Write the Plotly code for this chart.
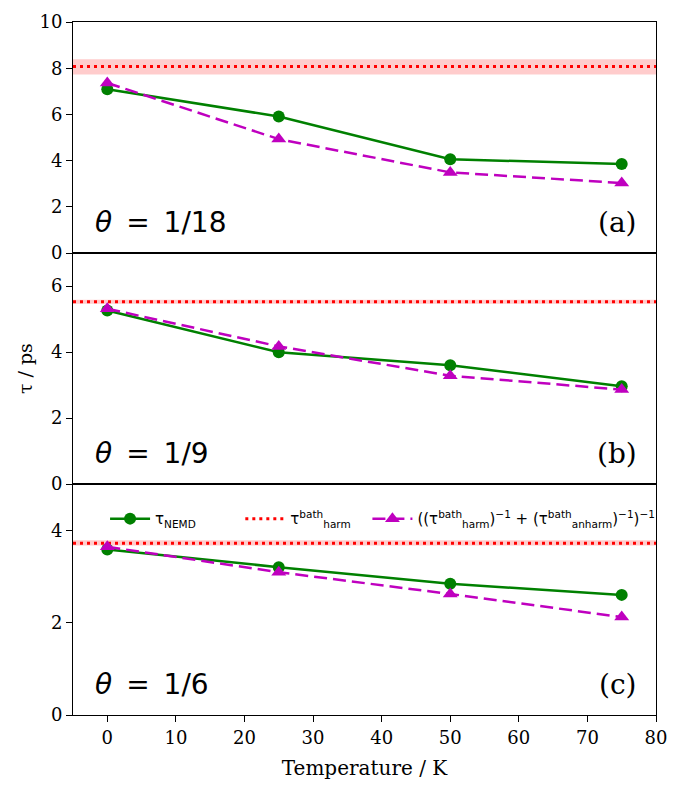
import plotly.graph_objects as go
from plotly.subplots import make_subplots

# ---------------- data ----------------
temps = [0, 25, 50, 75]
panel_tags = ["(a)", "(b)", "(c)"]
theta_labels = ["1/18", "1/9", "1/6"]
y_max = [10, 7, 5]

nemd_a = [7.09, 5.91, 4.06, 3.85]
nemd_b = [5.26, 3.99, 3.60, 2.96]
nemd_c = [3.58, 3.20, 2.84, 2.60]

comb_a = [7.36, 4.93, 3.49, 3.03]
comb_b = [5.31, 4.17, 3.28, 2.86]
comb_c = [3.64, 3.09, 2.62, 2.12]

harm = [8.07, 5.52, 3.72]
harm_lo = [7.73, 5.46, 3.67]
harm_hi = [8.39, 5.58, 3.78]

x_ticks = [0, 10, 20, 30, 40, 50, 60, 70, 80]
x_range = [-5, 80]

nemd = [nemd_a, nemd_b, nemd_c]
comb = [comb_a, comb_b, comb_c]

GREEN = "#008000"
MAG = "#BF00BF"
RED = "#FF0000"
SERIF = "DejaVu Serif"
SANS = "DejaVu Sans"

fig = make_subplots(rows=3, cols=1, shared_xaxes=True, vertical_spacing=0)

name_nemd = "τ<sub>NEMD</sub>"
name_harm = "τ<sup>bath</sup><sub>harm</sub>"
name_comb = "((τ<sup>bath</sup><sub>harm</sub>)<sup>−1</sup> + (τ<sup>bath</sup><sub>anharm</sub>)<sup>−1</sup>)<sup>−1</sup>"

RED_DOT = dict(color=RED, width=3, dash="3px,4px")

for i in range(3):
    r = i + 1
    fig.add_trace(go.Scatter(
        x=temps, y=nemd[i], mode="lines+markers",
        line=dict(color=GREEN, width=2.5), marker=dict(symbol="circle", size=12, color=GREEN),
        name=name_nemd, showlegend=(i == 2), legend="legend"), row=r, col=1)
    fig.add_trace(go.Scatter(
        x=temps, y=comb[i], mode="lines+markers",
        line=dict(color=MAG, width=2.5, dash="13px,6px"),
        marker=dict(symbol="triangle-up", size=13, color=MAG),
        name=name_comb, showlegend=(i == 2), legend="legend3"), row=r, col=1)

for i in range(3):
    r = i + 1
    fig.add_hrect(y0=harm_lo[i], y1=harm_hi[i], fillcolor="rgba(255,0,0,0.2)",
                  line_width=0, layer="below", row=r, col=1, exclude_empty_subplots=False)
    fig.add_hline(y=harm[i], line=RED_DOT, layer="below", row=r, col=1,
                  exclude_empty_subplots=False)

# legend proxy for the dotted horizontal line
fig.add_trace(go.Scatter(x=[None], y=[None], mode="lines", line=RED_DOT,
                         name=name_harm, showlegend=True, legend="legend2"), row=3, col=1)

axis_common = dict(showline=True, linecolor="black", linewidth=1, mirror=True,
                   showgrid=False, zeroline=False)

for i in range(3):
    r = i + 1
    fig.update_yaxes(range=[0, y_max[i]], dtick=2, tick0=0, ticks="outside", ticklen=6,
                     tickcolor="black", tickfont=dict(family=SERIF, size=18, color="black"),
                     **axis_common, row=r, col=1)
    fig.update_xaxes(range=x_range, **axis_common, row=r, col=1)
    if r < 3:
        fig.update_xaxes(showticklabels=False, ticks="", row=r, col=1)
    else:
        fig.update_xaxes(tickvals=x_ticks, ticks="outside", ticklen=6, tickcolor="black",
                         tickfont=dict(family=SERIF, size=18, color="black"),
                         title=dict(text="Temperature / K", font=dict(family=SERIF, size=20, color="black"),
                                    standoff=14),
                         row=r, col=1)
    xd = "x domain" if r == 1 else f"x{r} domain"
    yd = "y domain" if r == 1 else f"y{r} domain"
    fig.add_annotation(xref=xd, yref=yd, x=0.035, y=0.13, xanchor="left", yanchor="middle",
                       text="<i>θ</i>\u2002=\u20021/" + theta_labels[i].split("/")[1], showarrow=False,
                       font=dict(family=SANS, size=28, color="black"))
    fig.add_annotation(xref=xd, yref=yd, x=0.97, y=0.13, xanchor="right", yanchor="middle",
                       text=panel_tags[i], showarrow=False,
                       font=dict(family=SERIF, size=28, color="black"))

fig.add_annotation(xref="paper", yref="paper", x=-0.083, y=0.5, xanchor="center", yanchor="middle",
                   text="τ / ps", textangle=-90, showarrow=False,
                   font=dict(family=SERIF, size=19, color="black"))

leg_common = dict(orientation="h", bgcolor="rgba(0,0,0,0)", font=dict(family=SANS, size=15, color="black"),
                  yanchor="middle", xanchor="left", itemwidth=40)
fig.update_layout(
    width=684, height=795,
    margin=dict(l=73, r=28, t=22, b=80),
    paper_bgcolor="white", plot_bgcolor="white",
    legend=dict(x=0.055, y=0.283, **leg_common),
    legend2=dict(x=0.287, y=0.283, **leg_common),
    legend3=dict(x=0.505, y=0.283, **leg_common),
)

fig.write_html("out.html")
